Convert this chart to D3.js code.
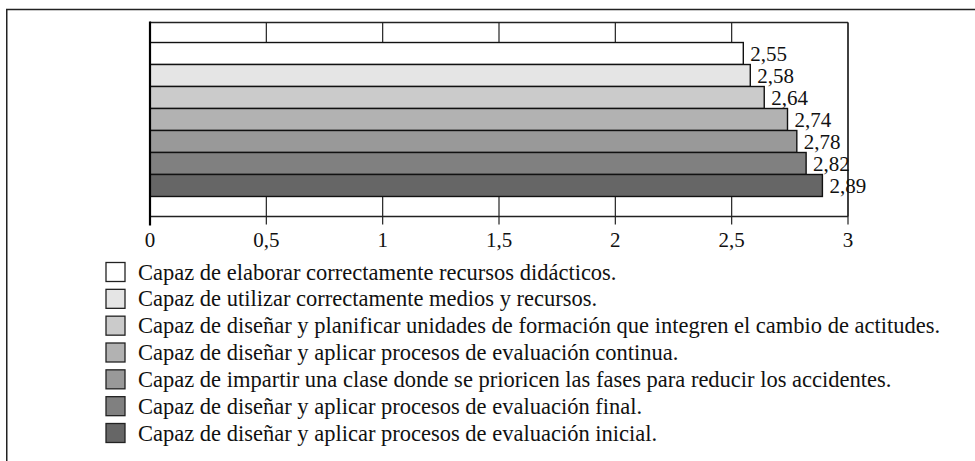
<!DOCTYPE html>
<html><head><meta charset="utf-8">
<script src="https://cdn.jsdelivr.net/npm/d3@7"></script>
<style>html,body{margin:0;padding:0;background:#fff;}svg{display:block;}</style>
</head><body>
<svg id="chart" width="975" height="461"></svg>
<script>
const categories = [
  "Capaz de elaborar correctamente recursos didácticos.",
  "Capaz de utilizar correctamente medios y recursos.",
  "Capaz de diseñar y planificar unidades de formación que integren el cambio de actitudes.",
  "Capaz de diseñar y aplicar procesos de evaluación continua.",
  "Capaz de impartir una clase donde se prioricen las fases para reducir los accidentes.",
  "Capaz de diseñar y aplicar procesos de evaluación final.",
  "Capaz de diseñar y aplicar procesos de evaluación inicial."
];
const values = [2.55, 2.58, 2.64, 2.74, 2.78, 2.82, 2.89];
const valueLabels = ["2,55", "2,58", "2,64", "2,74", "2,78", "2,82", "2,89"];
const ticks = [0, 0.5, 1, 1.5, 2, 2.5, 3];
const tickLabels = ["0", "0,5", "1", "1,5", "2", "2,5", "3"];
const colors = ["#ffffff", "#e5e5e5", "#cbcbcb", "#b2b2b2", "#999999", "#808080", "#666666"];

const svg = d3.select("#chart");
const font = "'Liberation Serif', 'Times New Roman', serif";
const L = 150, R = 848, T = 22.5, B = 216.5;

// outer frame (top and left)
svg.append("line").attr("x1", 6).attr("x2", 975).attr("y1", 9.5).attr("y2", 9.5)
  .attr("stroke", "#222").attr("stroke-width", 1.5);
svg.append("line").attr("x1", 6.75).attr("x2", 6.75).attr("y1", 9).attr("y2", 461)
  .attr("stroke", "#222").attr("stroke-width", 1.5);

const x = d3.scaleLinear().domain([0, 3]).range([L, R]);
const y = d3.scaleBand().domain(d3.range(categories.length)).range([T, B])
  .paddingInner(0).paddingOuter(0.91);

// gridlines + ticks
svg.append("g").selectAll("line").data(ticks.slice(1)).join("line")
  .attr("x1", d => x(d)).attr("x2", d => x(d))
  .attr("y1", T).attr("y2", B + 8)
  .attr("stroke", "#222").attr("stroke-width", 1.2);

// plot frame top / right / bottom
svg.append("line").attr("x1", L).attr("x2", R).attr("y1", T).attr("y2", T)
  .attr("stroke", "#222").attr("stroke-width", 1.3);
svg.append("line").attr("x1", R).attr("x2", R).attr("y1", T).attr("y2", B)
  .attr("stroke", "#222").attr("stroke-width", 1.3);
svg.append("line").attr("x1", L).attr("x2", R).attr("y1", B).attr("y2", B)
  .attr("stroke", "#222").attr("stroke-width", 1.3);

// bars
svg.append("g").selectAll("rect").data(values).join("rect")
  .attr("x", x(0)).attr("y", (d, i) => y(i))
  .attr("width", d => x(d) - x(0)).attr("height", y.bandwidth())
  .attr("fill", (d, i) => colors[i])
  .attr("stroke", "#111").attr("stroke-width", 1.4);

// left axis line
svg.append("line").attr("x1", L).attr("x2", L).attr("y1", T - 1).attr("y2", B + 9)
  .attr("stroke", "#000").attr("stroke-width", 2.2);

// value labels
svg.append("g").selectAll("text").data(values).join("text")
  .attr("x", d => x(d) + 7).attr("y", (d, i) => y(i) + y.bandwidth() / 2 + 7.5)
  .attr("font-family", font).attr("font-size", 21).attr("fill", "#111")
  .text((d, i) => valueLabels[i]);

// tick labels
svg.append("g").selectAll("text").data(ticks).join("text")
  .attr("x", d => x(d)).attr("y", 246.5)
  .attr("text-anchor", "middle")
  .attr("font-family", font).attr("font-size", 21).attr("fill", "#111")
  .text((d, i) => tickLabels[i]);

// legend
const lg = svg.append("g");
const rowY = d3.scaleLinear().domain([0, 6]).range([272, 433]);
categories.forEach((c, i) => {
  lg.append("rect").attr("x", 106).attr("y", rowY(i) - 9.5).attr("width", 19).attr("height", 19)
    .attr("fill", colors[i]).attr("stroke", "#222").attr("stroke-width", 1.3);
  lg.append("text").attr("x", 138).attr("y", rowY(i) + 7.5)
    .attr("font-family", font).attr("font-size", 22.5).attr("fill", "#111")
    .text(c);
});
</script>
</body></html>
